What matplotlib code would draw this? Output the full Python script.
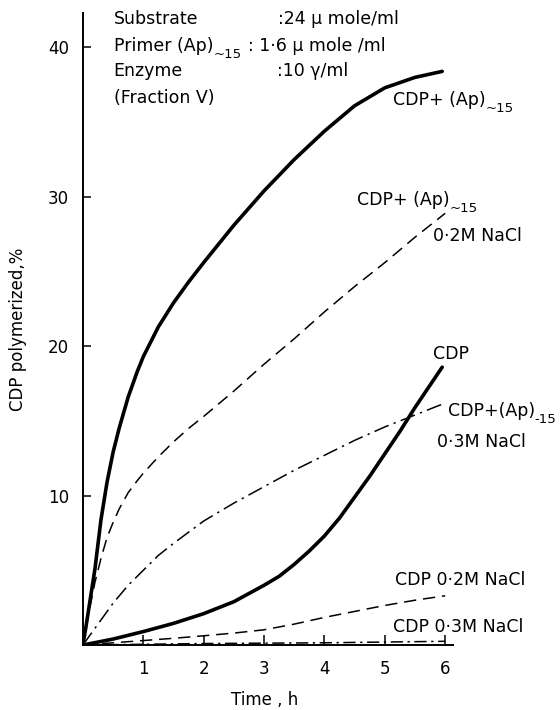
import numpy as np
import matplotlib
matplotlib.use("Agg")
import matplotlib.pyplot as plt

plt.rcParams["font.family"] = ["DejaVu Sans"]

# values (time in h, CDP polymerized in %)
t_ap = [0, 0.05, 0.1, 0.15, 0.2, 0.3, 0.4, 0.5, 0.6, 0.75, 0.9, 1.0, 1.25, 1.5, 1.75,
        2.0, 2.5, 3.0, 3.5, 4.0, 4.5, 5.0, 5.5, 5.95]
y_ap = [0, 1.2, 2.5, 3.8, 5.1, 8.4, 10.9, 12.9, 14.5, 16.6, 18.3, 19.3, 21.3, 22.9, 24.3,
        25.6, 28.1, 30.4, 32.5, 34.4, 36.1, 37.3, 38.0, 38.4]

t_ap02 = [0, 0.1, 0.2, 0.3, 0.4, 0.5, 0.6, 0.75, 0.9, 1.0, 1.25, 1.5, 1.75, 2.0, 2.5,
          3.0, 3.5, 4.0, 4.5, 5.0, 5.5, 6.0]
y_ap02 = [0, 2.2, 4.2, 5.8, 7.2, 8.2, 9.1, 10.2, 11.0, 11.5, 12.6, 13.6, 14.5, 15.3, 17.0,
          18.8, 20.5, 22.3, 24.0, 25.6, 27.3, 28.9]

t_ap03 = [0, 0.25, 0.5, 0.75, 1.0, 1.25, 1.5, 2.0, 2.5, 3.0, 3.5, 4.0, 4.5, 5.0, 5.5, 6.0]
y_ap03 = [0, 1.4, 2.8, 4.0, 5.0, 6.0, 6.8, 8.3, 9.5, 10.6, 11.7, 12.7, 13.7, 14.6, 15.4, 16.2]

t_cdp = [0, 0.5, 1.0, 1.5, 2.0, 2.5, 3.0, 3.25, 3.5, 3.75, 4.0, 4.25, 4.5, 4.75, 5.0,
         5.25, 5.5, 5.75, 5.95]
y_cdp = [0, 0.4, 0.9, 1.45, 2.1, 2.9, 4.0, 4.6, 5.4, 6.3, 7.3, 8.5, 9.9, 11.3, 12.8,
         14.3, 15.9, 17.4, 18.6]

t_cdp02 = [0, 0.5, 1.0, 1.5, 2.0, 2.5, 3.0, 3.5, 4.0, 4.5, 5.0, 5.5, 6.0]
y_cdp02 = [0, 0.15, 0.3, 0.45, 0.62, 0.8, 1.02, 1.4, 1.85, 2.25, 2.65, 3.0, 3.3]

t_cdp03 = [0, 2.0, 4.0, 6.0]
y_cdp03 = [0, 0.1, 0.15, 0.25]

xticks = [1, 2, 3, 4, 5, 6]
yticks = [10, 20, 30, 40]

fs = 12.5


def label_sub(ax, x, y, main, sub="~15"):
    # main text plus a lowered, smaller subscript right after it
    txt = ax.text(x, y, main, fontsize=fs, va="center")
    ax.annotate(sub, xy=(1.0, 0.0), xycoords=txt, fontsize=9.5,
                ha="left", va="center")
    return txt


fig = plt.figure(figsize=(5.6, 7.1), dpi=100)
ax = fig.add_axes([0.148, 0.0915, 0.661, 0.890])

ax.plot(t_ap, y_ap, color="k", lw=2.6, solid_capstyle="round")
ax.plot(t_ap02, y_ap02, color="k", lw=1.1, dashes=(8, 4.5))
ax.plot(t_ap03, y_ap03, color="k", lw=1.1, dashes=(10, 3.5, 1.5, 3.5))
ax.plot(t_cdp, y_cdp, color="k", lw=2.6, solid_capstyle="round")
ax.plot(t_cdp02, y_cdp02, color="k", lw=1.1, dashes=(8, 4.5))
ax.plot(t_cdp03, y_cdp03, color="k", lw=1.1, dashes=(8, 3, 1.5, 3))

ax.set_xlim(0, 6.13)
ax.set_ylim(0, 42.3)
ax.set_xticks(xticks)
ax.set_yticks(yticks)
for s in ["top", "right"]:
    ax.spines[s].set_visible(False)
for s in ["left", "bottom"]:
    ax.spines[s].set_linewidth(1.4)
ax.tick_params(axis="both", direction="in", labelsize=12, width=1.1)
ax.tick_params(axis="x", length=7, pad=11)
ax.tick_params(axis="y", length=6, pad=10)

ax.set_ylabel("CDP polymerized,%", fontsize=12)
ax.yaxis.set_label_coords(-0.15, 0.5)
ax.text(0.49, -0.087, "Time , h", fontsize=12, ha="center", va="center",
        transform=ax.transAxes)

# conditions box
ax.text(0.51, 41.9, "Substrate", fontsize=fs, va="center")
ax.text(3.23, 41.9, ":24 \u03bc mole/ml", fontsize=fs, va="center")
label_sub(ax, 0.51, 40.1, "Primer (Ap)")
ax.text(2.74, 40.1, ": 1\u00b76 \u03bc mole /ml", fontsize=fs, va="center")
ax.text(0.51, 38.4, "Enzyme", fontsize=fs, va="center")
ax.text(3.22, 38.4, ":10 \u03b3/ml", fontsize=fs, va="center")
ax.text(0.51, 36.6, "(Fraction V)", fontsize=fs, va="center")

# curve labels
label_sub(ax, 5.14, 36.5, "CDP+ (Ap)")
label_sub(ax, 4.54, 29.8, "CDP+ (Ap)")
ax.text(5.80, 27.4, "0\u00b72M NaCl", fontsize=fs, va="center")
ax.text(5.80, 19.5, "CDP", fontsize=fs, va="center")
label_sub(ax, 6.04, 15.7, "CDP+(Ap)", sub="-15")
ax.text(5.87, 13.6, "0\u00b73M NaCl", fontsize=fs, va="center")
ax.text(5.17, 4.35, "CDP 0\u00b72M NaCl", fontsize=fs, va="center")
ax.text(5.14, 1.2, "CDP 0\u00b73M NaCl", fontsize=fs, va="center")

fig.savefig("out.png", dpi=100)
